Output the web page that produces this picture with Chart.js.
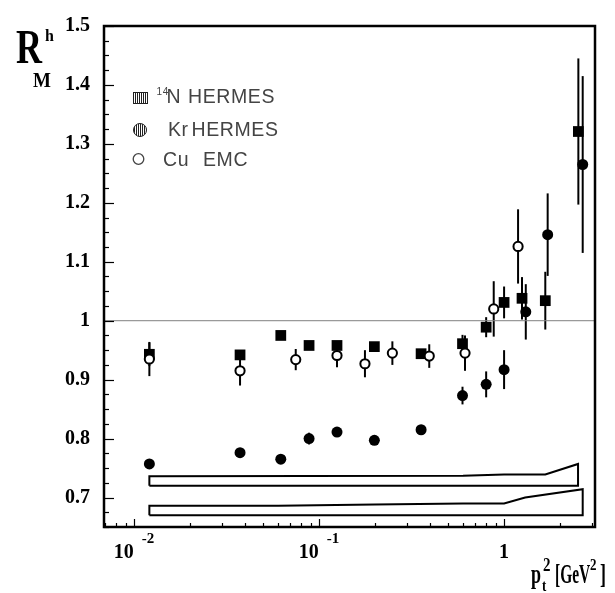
<!DOCTYPE html>
<html>
<head>
<meta charset="utf-8">
<script src="https://cdn.jsdelivr.net/npm/chart.js@4.4.1/dist/chart.umd.min.js"></script>
<style>
  html, body { margin: 0; padding: 0; background: #fff; }
  #wrap { position: relative; width: 615px; height: 593px; overflow: hidden; }
  #chart { position: absolute; left: 0; top: 0; }
  .lbl { position: absolute; white-space: nowrap; }
</style>
</head>
<body>
<div id="wrap"><canvas id="chart" width="615" height="593"></canvas></div>
<script>
// Axis ranges and ticks
const xMin = 0.00688, xMax = 3.1;
const yMin = 0.65, yMax = 1.5;
const yTickValues = [0.7, 0.8, 0.9, 1.0, 1.1, 1.2, 1.3, 1.4, 1.5];
const yTickLabels = ['0.7', '0.8', '0.9', '1', '1.1', '1.2', '1.3', '1.4', '1.5'];
const xTickValues = [0.01, 0.1, 1];
const xTickBase = ['10', '10', '1'];
const xTickExp = ['-2', '-1', ''];

// 14N HERMES (filled squares)
const nX   = [0.0121, 0.0374, 0.0621, 0.0883, 0.125, 0.199, 0.356, 0.596, 0.80, 1.0, 1.25, 1.67, 2.52];
const nY   = [0.943, 0.942, 0.975, 0.958, 0.958, 0.956, 0.944, 0.961, 0.989, 1.031, 1.038, 1.034, 1.321];
const nErr = [0.020, 0.006, 0.006, 0.006, 0.006, 0.006, 0.006, 0.015, 0.017, 0.027, 0.036, 0.049, 0.124];

// Kr HERMES (filled circles)
const krX   = [0.0121, 0.0374, 0.0621, 0.0883, 0.125, 0.199, 0.356, 0.596, 0.80, 1.0, 1.31, 1.72, 2.66];
const krY   = [0.757, 0.776, 0.765, 0.800, 0.811, 0.797, 0.815, 0.873, 0.892, 0.917, 1.015, 1.146, 1.265];
const krErr = [0.005, 0.005, 0.005, 0.010, 0.005, 0.005, 0.005, 0.015, 0.022, 0.033, 0.047, 0.070, 0.150];

// Cu EMC (open circles)
const cuX   = [0.0121, 0.0374, 0.0748, 0.125, 0.177, 0.249, 0.394, 0.615, 0.879, 1.19];
const cuY   = [0.935, 0.915, 0.934, 0.941, 0.927, 0.945, 0.940, 0.945, 1.020, 1.126];
const cuErr = [0.029, 0.025, 0.018, 0.020, 0.023, 0.020, 0.020, 0.030, 0.047, 0.063];

// systematic bands
const bandNX = [0.0121, 0.6, 1.0, 1.67, 2.51];
const bandNTop = [0.736, 0.737, 0.739, 0.739, 0.757];
const bandNBottom = 0.72;
const bandKrX = [0.0121, 0.06, 0.2, 0.6, 1.0, 1.3, 2.66];
const bandKrTop = [0.686, 0.686, 0.688, 0.690, 0.690, 0.700, 0.714];
const bandKrBottom = 0.67;

const toPoints = (xs, ys) => xs.map((x, i) => ({ x: x, y: ys[i] }));
function bandPolygon(xs, tops, bottom) {
    const pts = [{ x: xs[0], y: bottom }];
    xs.forEach((x, i) => pts.push({ x: x, y: tops[i] }));
    pts.push({ x: xs[xs.length - 1], y: bottom });
    pts.push({ x: xs[0], y: bottom });
    return pts;
}

const serif = '"Liberation Serif", "Times New Roman", serif';
const sans = '"Liberation Sans", Arial, Helvetica, sans-serif';

// error bars, frame, inward ticks, x labels, legend symbols
const rootAxes = {
    id: 'rootAxes',
    beforeDatasetsDraw(chart) {
        const { ctx, scales: { x, y } } = chart;
        ctx.save();
        ctx.strokeStyle = '#000';
        ctx.lineWidth = 2;
        chart.data.datasets.forEach(ds => {
            if (!ds.errors) return;
            ds.data.forEach((p, i) => {
                const px = x.getPixelForValue(p.x);
                ctx.beginPath();
                ctx.moveTo(px, y.getPixelForValue(p.y + ds.errors[i]));
                ctx.lineTo(px, y.getPixelForValue(p.y - ds.errors[i]));
                ctx.stroke();
            });
        });
        ctx.restore();
    },
    afterDraw(chart) {
        const { ctx, chartArea: a, scales: { x, y } } = chart;
        ctx.save();
        ctx.strokeStyle = '#000';
        // y ticks
        ctx.lineWidth = 1.2;
        for (let i = 0; i <= 34; i++) {
            const v = yMin + 0.025 * i;
            const major = Math.abs(v * 10 - Math.round(v * 10)) < 1e-6;
            const py = Math.round(y.getPixelForValue(v)) + 0.5;
            ctx.beginPath();
            ctx.moveTo(a.left, py);
            ctx.lineTo(a.left + (major ? 10 : 5), py);
            ctx.stroke();
        }
        // x ticks
        for (let k = -3; k <= 0; k++) {
            for (let m = 1; m <= 9; m++) {
                const v = m * Math.pow(10, k);
                if (v <= xMin || v >= xMax) continue;
                const px = Math.round(x.getPixelForValue(v)) + 0.5;
                ctx.beginPath();
                ctx.moveTo(px, a.bottom);
                ctx.lineTo(px, a.bottom - (m === 1 ? 8 : 4));
                ctx.stroke();
            }
        }
        // frame
        ctx.lineWidth = 2.5;
        ctx.strokeRect(a.left, a.top, a.right - a.left, a.bottom - a.top);

        // x tick labels with exponents
        ctx.fillStyle = '#000';
        ctx.textBaseline = 'alphabetic';
        ctx.textAlign = 'left';
        xTickValues.forEach((v, i) => {
            const px = x.getPixelForValue(v);
            ctx.font = 'bold 20px ' + serif;
            const w1 = ctx.measureText(xTickBase[i]).width;
            ctx.font = 'bold 15px ' + serif;
            const w2 = xTickExp[i] ? ctx.measureText(xTickExp[i]).width : 0;
            const gap = xTickExp[i] ? 8 : 0;
            const start = px - (w1 + gap + w2) / 2;
            ctx.font = 'bold 20px ' + serif;
            ctx.fillText(xTickBase[i], start, 558);
            if (xTickExp[i]) {
                ctx.font = 'bold 15px ' + serif;
                ctx.fillText(xTickExp[i], start + w1 + gap, 543);
            }
        });

        // legend symbols
        ctx.lineWidth = 1;
        ctx.strokeStyle = '#222';
        ctx.fillStyle = '#fff';
        ctx.fillRect(133.5, 92.5, 14, 11);
        ctx.beginPath();
        for (let lx = 135.5; lx < 147; lx += 2) { ctx.moveTo(lx, 92.5); ctx.lineTo(lx, 103.5); }
        ctx.stroke();
        ctx.strokeRect(133.5, 92.5, 14, 11);

        ctx.save();
        ctx.beginPath();
        ctx.arc(140, 130, 6.5, 0, Math.PI * 2);
        ctx.clip();
        ctx.beginPath();
        for (let lx = 134.5; lx < 147; lx += 2) { ctx.moveTo(lx, 122); ctx.lineTo(lx, 138); }
        ctx.stroke();
        ctx.restore();
        ctx.beginPath();
        ctx.arc(140, 130, 6.5, 0, Math.PI * 2);
        ctx.stroke();

        ctx.strokeStyle = '#444';
        ctx.lineWidth = 1.3;
        ctx.beginPath();
        ctx.arc(138.5, 159, 5.3, 0, Math.PI * 2);
        ctx.stroke();
        ctx.restore();
    }
};

const chart = new Chart(document.getElementById('chart'), {
    type: 'scatter',
    data: {
        datasets: [
            {
                label: 'Cu EMC', data: toPoints(cuX, cuY), errors: cuErr, order: 1,
                pointStyle: 'circle', pointRadius: 4.6, borderWidth: 2,
                backgroundColor: '#fff', borderColor: '#000'
            },
            {
                label: '14N HERMES', data: toPoints(nX, nY), errors: nErr, order: 2,
                pointStyle: 'rect', pointRadius: 7.6, borderWidth: 0,
                backgroundColor: '#000', borderColor: '#000'
            },
            {
                label: 'Kr HERMES', data: toPoints(krX, krY), errors: krErr, order: 3,
                pointStyle: 'circle', pointRadius: 5.5, borderWidth: 0,
                backgroundColor: '#000', borderColor: '#000'
            },
            {
                label: 'ref', data: [{ x: xMin, y: 1 }, { x: xMax, y: 1 }], order: 4,
                showLine: true, pointRadius: 0, borderColor: '#808080', borderWidth: 1, fill: false
            },
            {
                label: 'N syst', data: bandPolygon(bandNX, bandNTop, bandNBottom), order: 5,
                showLine: true, pointRadius: 0, borderColor: '#000', borderWidth: 2, fill: false, tension: 0
            },
            {
                label: 'Kr syst', data: bandPolygon(bandKrX, bandKrTop, bandKrBottom), order: 5,
                showLine: true, pointRadius: 0, borderColor: '#000', borderWidth: 2, fill: false, tension: 0
            }
        ]
    },
    options: {
        responsive: false,
        animation: false,
        devicePixelRatio: 1,
        layout: { padding: { top: 14, right: 20, bottom: 66, left: 0 } },
        plugins: { legend: { display: false }, tooltip: { enabled: false } },
        scales: {
            x: { type: 'logarithmic', min: xMin, max: xMax, display: false },
            y: {
                min: yMin, max: yMax,
                afterFit: s => { s.width = 104; },
                afterBuildTicks: s => { s.ticks = yTickValues.map(v => ({ value: v })); },
                grid: { display: false, drawTicks: false },
                border: { display: false },
                ticks: {
                    padding: 14, color: '#000',
                    font: { family: serif, weight: 'bold', size: 20 },
                    callback: (v, i) => yTickLabels[i]
                }
            }
        }
    },
    plugins: [rootAxes]
});

// text labels (axis titles and legend)
function addLabel(text, left, baseline, size, opts) {
    const o = Object.assign({ family: serif, weight: 'bold', color: '#000', sx: 1, sy: 1, asc: 0.8375, ls: 0 }, opts || {});
    const el = document.createElement('div');
    el.className = 'lbl';
    el.textContent = text;
    el.style.font = o.weight + ' ' + size + 'px ' + o.family;
    el.style.lineHeight = size + 'px';
    el.style.color = o.color;
    el.style.letterSpacing = o.ls + 'px';
    el.style.left = left + 'px';
    el.style.top = (baseline - o.asc * size) + 'px';
    el.style.transformOrigin = '0 ' + (o.asc * size) + 'px';
    if (o.sx !== 1 || o.sy !== 1) el.style.transform = 'scale(' + o.sx + ',' + o.sy + ')';
    document.getElementById('wrap').appendChild(el);
}

// y title R^h_M
addLabel('R', 16, 63, 36, { sy: 1.32 });
addLabel('h', 45, 41, 16, { sy: 1.1 });
addLabel('M', 33, 87, 19, { sy: 1.1 });

// x title p_t^2 [GeV^2]
addLabel('p', 531, 583, 18, { sy: 1.5 });
addLabel('t', 542, 591, 13, { sy: 1.3 });
addLabel('2', 543, 572, 15, { sy: 1.25 });
addLabel('[GeV', 555, 583, 18, { sx: 0.86, sy: 1.5 });
addLabel('2', 590, 570, 13, { sy: 1.3 });
addLabel(']', 600, 583, 18, { sy: 1.5 });

// legend text
const lg = { family: sans, weight: 'normal', color: '#444', asc: 0.8465, ls: 0.6 };
addLabel('14', 156.5, 95, 10, lg);
addLabel('N', 166.5, 104, 19.5, lg);
addLabel('HERMES', 188, 104, 19.5, lg);
addLabel('Kr', 168, 136.5, 19.5, lg);
addLabel('HERMES', 191.5, 136.5, 19.5, lg);
addLabel('Cu', 163, 166.5, 19.5, lg);
addLabel('EMC', 203, 166.5, 19.5, lg);
</script>
</body>
</html>
